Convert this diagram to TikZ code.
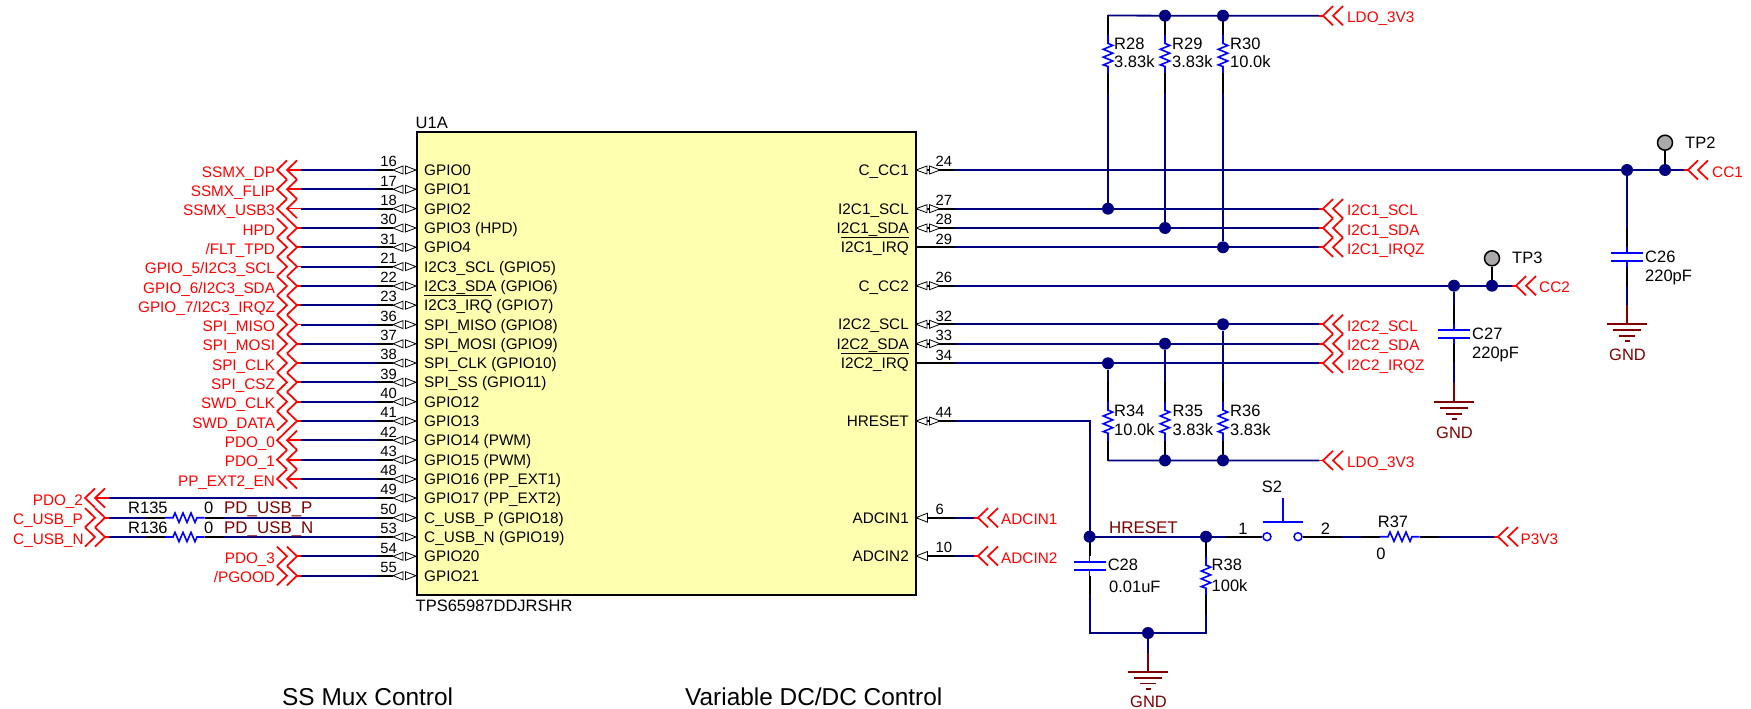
\documentclass[tikz,border=0pt]{standalone}
\usepackage{fontspec}
\setmainfont{Liberation Sans}
\definecolor{wirec}{HTML}{000080}
\definecolor{netr}{HTML}{800000}
\definecolor{bodyc}{HTML}{FFFFB0}
\definecolor{tpc}{HTML}{ABA9A9}
\newcommand\ovl[1]{\leavevmode\setbox0\hbox{#1}\rlap{\raise 14.6pt\hbox to \wd0{\leaders\hrule height 1.4pt depth 0pt\hfill}}\box0\relax}
\newcommand\fA{\fontsize{15.3}{18}\selectfont}
\newcommand\fB{\fontsize{16.5}{19}\selectfont}
\tikzset{
  wire/.style={draw=wirec,line width=1.8pt},
  blk/.style={draw=black,line width=1.8pt},
  bluew/.style={draw=blue,line width=1.6pt,line join=miter},
  redw/.style={draw=red,line width=1.7pt,line join=miter},
  gndw/.style={draw=netr,line width=1.8pt},
  dot/.style={circle,fill=wirec,draw=none,minimum size=12pt,inner sep=0pt},
  tpoint/.style={circle,fill=tpc,draw=black,line width=1.5pt,minimum size=15pt,inner sep=0pt},
  pinw/.style={draw=black,fill=white,line width=0.8pt,line join=miter},
  pname/.style={inner sep=0pt,font=\fA,text=black},
  pnum/.style={inner sep=0pt,font=\fontsize{14.8}{17}\selectfont,text=black},
  netl/.style={inner sep=0pt,font=\fA,text=red},
  comp/.style={inner sep=0pt,font=\fB,text=black,anchor=base west},
  drl/.style={inner sep=0pt,font=\fontsize{16.9}{19}\selectfont,text=netr,anchor=base west},
  big/.style={inner sep=0pt,font=\fontsize{24.4}{28}\selectfont,text=black,anchor=base west},
}
% off-page connectors; #1 = left edge, #2 = y
\newcommand\chevA[2]{\draw[redw] (#1+10,#2-9.6) -- (#1,#2) -- (#1+10,#2+9.6);
  \draw[redw] (#1+20,#2-9.6) -- (#1+10,#2) -- (#1+20,#2+9.6);
  \draw[redw] (#1+10,#2) -- (#1+24,#2);}
\newcommand\chevB[2]{\draw[redw] (#1,#2-9.6) -- (#1+10,#2) -- (#1,#2+9.6);
  \draw[redw] (#1+10,#2-9.6) -- (#1+20,#2) -- (#1+10,#2+9.6);
  \draw[redw] (#1+20,#2) -- (#1+24,#2);}
\newcommand\chevR[2]{\draw[redw] (#1+10,#2-9.6) -- (#1,#2) -- (#1+10,#2+9.6);
  \draw[redw] (#1+20,#2-9.6) -- (#1+10,#2) -- (#1+20,#2+9.6);
  \draw[redw] (#1-4,#2) -- (#1,#2);}
% pin symbols
\newcommand\pinBiL[1]{\draw[pinw] (393,#1) -- (403,#1-4) -- (403,#1+4) -- cycle;
  \draw[pinw] (416,#1) -- (405.5,#1-4) -- (405.5,#1+4) -- cycle;}
\newcommand\pinBiR[1]{\draw[pinw] (916,#1) -- (927,#1-4) -- (927,#1+4) -- cycle;
  \draw[pinw] (940,#1) -- (929.5,#1-4) -- (929.5,#1+4) -- cycle;}
\newcommand\pinIn[1]{\draw[pinw] (916,#1) -- (927.5,#1-4.5) -- (927.5,#1+4.5) -- cycle;}
\newcommand\pinNone[1]{}
% vertical resistor: #1 name, #2 x, #3 blue top, #4 blue bottom
\newcommand\Rv[4]{
  \coordinate (#1-t) at (#2,#3-19.5);
  \coordinate (#1-b) at (#2,#4+19.5);
  \draw[blk] (#1-t) -- (#2,#3);
  \draw[blk] (#2,#4) -- (#1-b);
  \draw[bluew] (#2,#3) -- (#2,#3+8.4) -- (#2+4.7,#3+10.4) -- (#2-4.7,#3+14.3) -- (#2+4.7,#3+18.2)
     -- (#2-4.7,#3+22.1) -- (#2+4.7,#3+26) -- (#2-4.7,#3+29.9) -- (#2,#3+31.5) -- (#2,#4);
}
% horizontal resistor: #1 name, #2 blue left, #3 y
\newcommand\Rh[3]{
  \coordinate (#1-l) at (#2-19,#3);
  \coordinate (#1-r) at (#2+58.5,#3);
  \draw[blk] (#1-l) -- (#2,#3);
  \draw[blk] (#2+39.5,#3) -- (#1-r);
  \draw[bluew] (#2,#3) -- (#2+8,#3) -- (#2+10,#3-4.7) -- (#2+14,#3+4.7) -- (#2+18,#3-4.7)
     -- (#2+22,#3+4.7) -- (#2+26,#3-4.7) -- (#2+30,#3+4.7) -- (#2+32,#3) -- (#2+39.5,#3);
}
% capacitor: #1 name, #2 x, #3 upper plate y
\newcommand\Cv[3]{
  \coordinate (#1-t) at (#2,#3-25);
  \coordinate (#1-b) at (#2,#3+33);
  \draw[blk] (#1-t) -- (#2,#3-6);
  \draw[bluew] (#2,#3-6) -- (#2,#3);
  \draw[bluew] (#2-16,#3) -- (#2+16,#3);
  \draw[bluew] (#2-16,#3+8) -- (#2+16,#3+8);
  \draw[bluew] (#2,#3+8) -- (#2,#3+14);
  \draw[blk] (#2,#3+14) -- (#1-b);
}
% ground: #1 name, #2 x, #3 top bar y
\newcommand\Gnd[3]{
  \coordinate (#1-t) at (#2,#3-19);
  \draw[gndw] (#1-t) -- (#2,#3);
  \draw[gndw] (#2-20,#3) -- (#2+20,#3);
  \draw[gndw] (#2-14,#3+6.3) -- (#2+14,#3+6.3);
  \draw[gndw] (#2-8,#3+11.8) -- (#2+8,#3+11.8);
  \draw[gndw] (#2-2.5,#3+17.3) -- (#2+2.5,#3+17.3);
  \node[inner sep=0pt,font=\fB,text=netr,anchor=base] (#1) at (#2+0.5,#3+36) {GND};
}
\begin{document}
\begin{tikzpicture}[x=1pt,y=-1pt]
\useasboundingbox (0,0) rectangle (1751,709);

% IC body
\node[draw=black,fill=bodyc,line width=2pt,minimum width=499pt,minimum height=463pt,inner sep=0pt,anchor=north west] (U1) at (416,131) {};
\node[comp] (U1ref) at (415.5,128.5) {U1A};
\node[comp] (U1val) at (415.5,611) {TPS65987DDJRSHR};

% left-hand pins
\foreach \n/\y/\pn in {
 16/170/{GPIO0},17/189.3/{GPIO1},18/208.6/{GPIO2},30/228/{GPIO3 (HPD)},31/247.3/{GPIO4},
 21/266.6/{I2C3\_SCL (GPIO5)},22/286/{I2C3\_SDA (GPIO6)},23/305.2/{\ovl{I2C3\_IRQ} (GPIO7)},
 36/324.6/{SPI\_MISO (GPIO8)},37/343.8/{SPI\_MOSI (GPIO9)},38/363/{SPI\_CLK (GPIO10)},
 39/382.3/{SPI\_SS (GPIO11)},40/401.7/{GPIO12},41/421/{GPIO13},42/440.3/{GPIO14 (PWM)},
 43/459.7/{GPIO15 (PWM)},48/479/{GPIO16 (PP\_EXT1)},49/498/{GPIO17 (PP\_EXT2)},
 50/517.7/{C\_USB\_P (GPIO18)},53/537/{C\_USB\_N (GPIO19)},54/556.3/{GPIO20},55/575.7/{GPIO21}}{
  \coordinate (s\n) at (377,\y);
  \coordinate (t\n) at (393,\y);
  \draw[blk] (s\n) -- (t\n);
  \pinBiL{\y}
  \node[pname,anchor=base west] (pn\n) at (424,\y+5.5) {\pn};
  \node[pnum,anchor=base east] (num\n) at (397,\y-3.3) {\n};
}

% left-hand nets
\foreach \n/\y/\net/\k/\x in {
 16/170/{SSMX\_DP}/\chevA/277,17/189.3/{SSMX\_FLIP}/\chevA/277,18/208.6/{SSMX\_USB3}/\chevA/277,
 30/228/{HPD}/\chevB/277,31/247.3/{/FLT\_TPD}/\chevB/277,21/266.6/{GPIO\_5/I2C3\_SCL}/\chevB/277,
 22/286/{GPIO\_6/I2C3\_SDA}/\chevB/277,23/305.2/{GPIO\_7/I2C3\_IRQZ}/\chevB/277,
 36/324.6/{SPI\_MISO}/\chevB/277,37/343.8/{SPI\_MOSI}/\chevB/277,38/363/{SPI\_CLK}/\chevB/277,
 39/382.3/{SPI\_CSZ}/\chevB/277,40/401.7/{SWD\_CLK}/\chevB/277,41/421/{SWD\_DATA}/\chevB/277,
 42/440.3/{PDO\_0}/\chevA/277,43/459.7/{PDO\_1}/\chevA/277,48/479/{PP\_EXT2\_EN}/\chevA/277,
 49/498/{PDO\_2}/\chevA/85,54/556.3/{PDO\_3}/\chevB/277,55/575.7/{/PGOOD}/\chevB/277}{
  \coordinate (w\n) at (\x+24,\y);
  \draw[wire] (w\n) -- (s\n);
  \k{\x}{\y}
  \node[netl,anchor=base east] (net\n) at (\x-1.8,\y+7) {\net};
}

% USB nets with series resistors
\chevB{85}{517.7}
\chevB{85}{537}
\node[netl,anchor=base east] (net50) at (83,524.7) {C\_USB\_P};
\node[netl,anchor=base east] (net53) at (84,544) {C\_USB\_N};
\coordinate (w50) at (109,517.7);
\coordinate (w53) at (109,537);
\Rh{R135}{165}{517.7}
\Rh{R136}{165}{537}
\draw[wire] (w50) -- (R135-l);
\draw[wire] (R135-r) -- (s50);
\draw[wire] (w53) -- (R136-l);
\draw[wire] (R136-r) -- (s53);
\node[comp] (R135t) at (128,513.8) {R135};
\node[comp] (R135v) at (204,513.8) {0};
\node[drl] (usbp) at (224,513.8) {PD\_USB\_P};
\node[comp] (R136t) at (128,533.8) {R136};
\node[comp] (R136v) at (204,533.8) {0};
\node[drl] (usbn) at (224,533.8) {PD\_USB\_N};

% right-hand pins
\foreach \n/\y/\pn/\k in {
 24/170/{C\_CC1}/\pinBiR,27/208.7/{I2C1\_SCL}/\pinBiR,28/228/{I2C1\_SDA}/\pinBiR,
 29/247.3/{\ovl{I2C1\_IRQ}}/\pinNone,26/285.7/{C\_CC2}/\pinBiR,32/324.3/{I2C2\_SCL}/\pinBiR,
 33/343.7/{I2C2\_SDA}/\pinBiR,34/363.3/{\ovl{I2C2\_IRQ}}/\pinNone,44/421/{HRESET}/\pinBiR,
 6/517.7/{ADCIN1}/\pinIn,10/556/{ADCIN2}/\pinIn}{
  \coordinate (s\n) at (955,\y);
  \coordinate (t\n) at (915,\y);
  \draw[blk] (t\n) -- (s\n);
  \k{\y}
  \node[pname,anchor=base east] (pn\n) at (909,\y+5.5) {\pn};
  \node[pnum,anchor=base west] (num\n) at (935.5,\y-3.3) {\n};
}

% right-hand nets ending in off-page connectors
\foreach \n/\y/\net in {27/208.7/{I2C1\_SCL},28/228/{I2C1\_SDA},29/247.3/{I2C1\_IRQZ},
 32/324.3/{I2C2\_SCL},33/343.7/{I2C2\_SDA},34/363.3/{I2C2\_IRQZ}}{
  \coordinate (w\n) at (1319,\y);
  \draw[wire] (s\n) -- (w\n);
  \chevR{1323}{\y}
  \node[netl,anchor=base west] (net\n) at (1347,\y+7) {\net};
}
\foreach \n/\y/\net in {6/517.7/{ADCIN1},10/556/{ADCIN2}}{
  \coordinate (w\n) at (974,\y);
  \draw[wire] (s\n) -- (w\n);
  \chevR{978}{\y}
  \node[netl,anchor=base west] (net\n) at (1001,\y+7) {\net};
}

% pull-ups on I2C1
\coordinate (ldoA) at (1319,15.7);
\chevR{1323}{15.7}
\node[netl,anchor=base west] (netldoA) at (1347,22.7) {LDO\_3V3};
\Rv{R28}{1108}{35}{73}
\Rv{R29}{1165}{35}{73}
\Rv{R30}{1223}{35}{73}
\draw[wire] (R28-t) -- (1165,15.7) -- (1223,15.7) -- (ldoA);
\node[dot] (d29t) at (1165,15.7) {};
\node[dot] (d30t) at (1223,15.7) {};
\node[dot] (dSCL1) at (1108,208.7) {};
\node[dot] (dSDA1) at (1165,228) {};
\node[dot] (dIRQ1) at (1223,247.3) {};
\draw[wire] (R28-b) -- (dSCL1);
\draw[wire] (R29-b) -- (dSDA1);
\draw[wire] (R30-b) -- (dIRQ1);
\node[comp] (R28t) at (1114,49) {R28};
\node[comp] (R28v) at (1114,68) {3.83k};
\node[comp] (R29t) at (1172,49) {R29};
\node[comp] (R29v) at (1172,68) {3.83k};
\node[comp] (R30t) at (1230,49) {R30};
\node[comp] (R30v) at (1230,68) {10.0k};

% pull-ups on I2C2
\coordinate (ldoB) at (1319,460.4);
\chevR{1323}{460.4}
\node[netl,anchor=base west] (netldoB) at (1347,467.4) {LDO\_3V3};
\Rv{R34}{1108}{401.7}{441}
\Rv{R35}{1165}{401.7}{441}
\Rv{R36}{1223}{401.7}{441}
\node[dot] (d35b) at (1165,460.4) {};
\node[dot] (d36b) at (1223,460.4) {};
\draw[wire] (R34-b) -- (d35b) -- (d36b) -- (ldoB);
\node[dot] (dIRQ2) at (1108,363.3) {};
\node[dot] (dSDA2) at (1165,343.7) {};
\node[dot] (dSCL2) at (1223,324.3) {};
\draw[wire] (dIRQ2) -- (R34-t);
\draw[wire] (dSDA2) -- (R35-t);
\draw[wire] (dSCL2) -- (R36-t);
\node[comp] (R34t) at (1114,416.6) {R34};
\node[comp] (R34v) at (1114,435) {10.0k};
\node[comp] (R35t) at (1172.5,416.6) {R35};
\node[comp] (R35v) at (1172.5,435) {3.83k};
\node[comp] (R36t) at (1230,416.6) {R36};
\node[comp] (R36v) at (1230,435) {3.83k};

% CC1
\node[dot] (dC26) at (1627,170) {};
\node[dot] (dTP2) at (1665,170) {};
\coordinate (wCC1) at (1684,170);
\draw[wire] (s24) -- (dC26) -- (dTP2) -- (wCC1);
\chevR{1688}{170}
\node[netl,anchor=base west] (netCC1) at (1712,177) {CC1};
\node[tpoint] (TP2) at (1665,142.7) {};
\draw[blk] (TP2) -- (dTP2);
\node[comp] (TP2t) at (1685,148) {TP2};
\Cv{C26}{1627}{253}
\draw[wire] (dC26) -- (C26-t);
\Gnd{G26}{1627}{324}
\draw[wire] (C26-b) -- (G26-t);
\node[comp] (C26t) at (1645,262) {C26};
\node[comp] (C26v) at (1645,281) {220pF};

% CC2
\node[dot] (dC27) at (1454,285.7) {};
\node[dot] (dTP3) at (1492,285.7) {};
\coordinate (wCC2) at (1512,285.7);
\draw[wire] (s26) -- (dC27) -- (dTP3) -- (wCC2);
\chevR{1516}{285.7}
\node[netl,anchor=base west] (netCC2) at (1539,292.7) {CC2};
\node[tpoint] (TP3) at (1492,258.3) {};
\draw[blk] (TP3) -- (dTP3);
\node[comp] (TP3t) at (1512,263) {TP3};
\Cv{C27}{1454}{330}
\draw[wire] (dC27) -- (C27-t);
\Gnd{G27}{1454}{402}
\draw[wire] (C27-b) -- (G27-t);
\node[comp] (C27t) at (1472,339) {C27};
\node[comp] (C27v) at (1472,358) {220pF};

% HRESET network
\Cv{C28}{1089.6}{561.7}
\Rv{R38}{1206}{556.7}{595}
\node[dot] (dR38) at (1206,536.7) {};
\coordinate (hrc) at (1089.6,421);
\draw[wire] (s44) -- (hrc) -- (1089.6,536.7) -- (dR38);
\node[dot] (dHR) at (1089.6,536.7) {};
\node[drl] (hresetl) at (1109,533.8) {HRESET};
\node[dot] (dGb) at (1148,633) {};
\coordinate (cb1) at (1089.6,633);
\coordinate (cb2) at (1206,633);
\draw[wire] (C28-b) -- (cb1) -- (dGb) -- (cb2) -- (R38-b);
\Gnd{G28}{1148}{671.7}
\draw[wire] (dGb) -- (G28-t);
\node[comp] (C28t) at (1107.6,570) {C28};
\node[comp] (C28v) at (1109,592.5) {0.01uF};
\node[comp] (R38t) at (1211.5,570) {R38};
\node[comp] (R38v) at (1211.5,591) {100k};

% switch S2
\node[circle,draw=blue,line width=1.5pt,fill=white,minimum size=8pt,inner sep=0pt] (S2a) at (1267,536.7) {};
\node[circle,draw=blue,line width=1.5pt,fill=white,minimum size=8pt,inner sep=0pt] (S2b) at (1298,536.7) {};
\coordinate (S2p) at (1283,521.7);
\coordinate (S2k) at (1283,498);
\coordinate (S2l) at (1263,521.7);
\coordinate (S2r) at (1303,521.7);
\draw[bluew] (S2l) -- (S2r);
\draw[bluew] (S2p) -- (S2k);
\coordinate (swA) at (1225,536.7);
\coordinate (swB) at (1342,536.7);
\draw[wire] (dR38) -- (swA);
\draw[blk] (swA) -- (S2a);
\draw[blk] (S2b) -- (swB);
\Rh{R37}{1380}{536.7}
\draw[wire] (swB) -- (R37-l);
\coordinate (wP) at (1494,536.7);
\draw[wire] (R37-r) -- (wP);
\chevR{1498}{536.7}
\node[netl,anchor=base west] (netP) at (1520.5,544) {P3V3};
\node[inner sep=0pt,font=\fB,anchor=base] (S2t) at (1272,492.5) {S2};
\node[inner sep=0pt,font=\fB,anchor=base] (S2n1) at (1243,534.5) {1};
\node[inner sep=0pt,font=\fB,anchor=base] (S2n2) at (1325.5,534.5) {2};
\node[inner sep=0pt,font=\fB,anchor=base] (R37t) at (1393,527.5) {R37};
\node[inner sep=0pt,font=\fB,anchor=base] (R37v) at (1381,559) {0};

% captions
\node[big] (capA) at (282,705) {SS Mux Control};
\node[big] (capB) at (685,705) {Variable DC/DC Control};
\end{tikzpicture}
\end{document}
